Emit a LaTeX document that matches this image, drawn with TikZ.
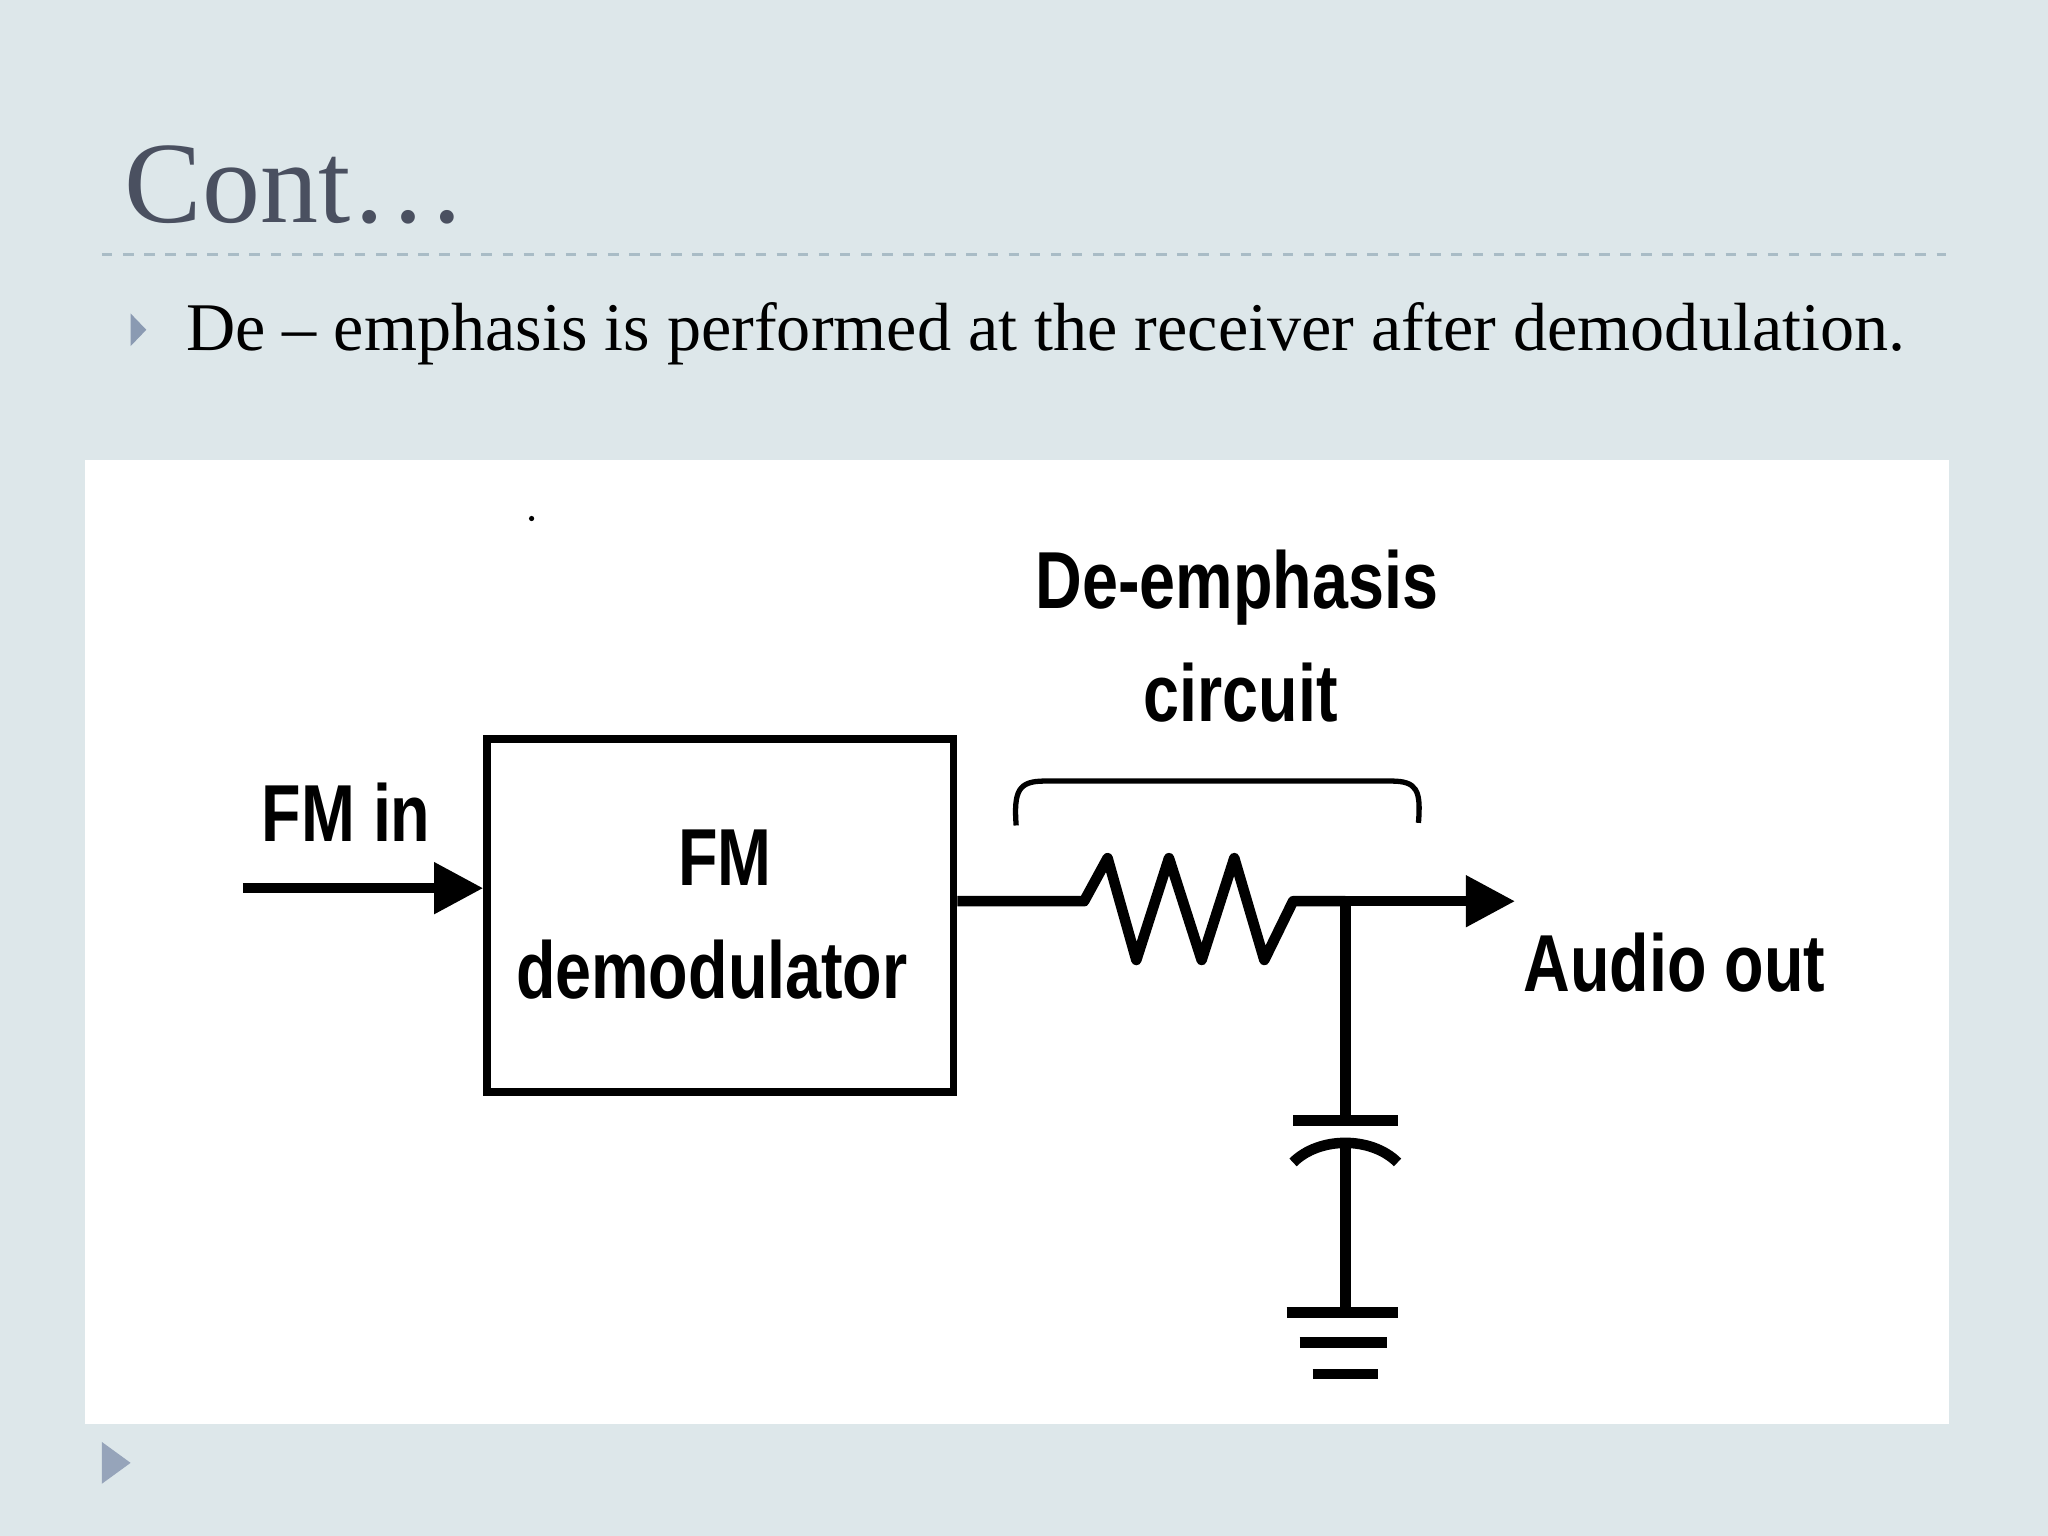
\documentclass[tikz,border=0pt]{standalone}
\usepackage{fontspec}
\setmainfont{Liberation Serif}
\newfontfamily\diag{Liberation Sans}
\usetikzlibrary{arrows.meta}
\definecolor{bg}{HTML}{DDE7EA}
\definecolor{ttl}{HTML}{4A5060}
\definecolor{bul}{HTML}{8A9AB2}
\definecolor{dashc}{HTML}{A9BCC6}
\begin{document}
\begin{tikzpicture}[x=0.013061cm,y=-0.013061cm,
  wire/.style={line width=3pt,black},
  lbl/.style={font=\diag\bfseries\fontsize{23}{26}\selectfont,xscale=0.8,inner sep=0pt}]
\useasboundingbox (0,0) rectangle (1568,1176);
\fill[bg] (0,0) rectangle (1568,1176);
\node[anchor=base west,inner sep=0pt,text=ttl,font=\fontsize{33}{36}\selectfont] (title) at (95,170) {Cont…};
\draw[dashc,dashed,line width=0.8pt] (78,195) -- (1490,195);
\fill[bul] (100,240) -- (112,252.5) -- (100,265) -- cycle;
\node[anchor=base west,inner sep=0pt,font=\fontsize{19.4}{23}\selectfont] (txt) at (142,268) {De – emphasis is performed at the receiver after demodulation.};
\fill[white] (65,352) rectangle (1492,1090);
\fill (407,397) circle (2);
\node[draw,line width=2.2pt,minimum width=357*0.013061cm,minimum height=270*0.013061cm,inner sep=0pt] (box) at (551.5,701) {};
\node[lbl] (fm) at (555,657) {FM};
\node[lbl] (dem) at (545,742) {demodulator};
\node[lbl] (fmin) at (265,622) {FM in};
\node[lbl] (de) at (947,450) {De-emphasis};
\node[lbl] (circ) at (950,530) {circuit};
\node[lbl] (aud) at (1282,737) {Audio out};
\coordinate (in) at (186,680);
\coordinate (r0) at (830,690);
\coordinate (j) at (1030,690);
\coordinate (out) at (1160,690);
\draw[wire,-{Triangle[length=14pt,width=14pt]}] (in) -- (box.west |- in);
\draw[wire,line join=round] (box.east |- r0) -- (r0) -- (848,657) -- (870,735) -- (895,657) -- (920,735) -- (945,657) -- (968,735) -- (990,690) -- (j);
\draw[wire,-{Triangle[length=14pt,width=14pt]}] (j) -- (out);
\draw[wire] (j) -- (1030,858);
\draw[wire] (990,858) -- (1070,858);
\draw[wire] (990,890) .. controls (1010,870) and (1050,870) .. (1070,890);
\draw[wire] (1030,877) -- (1030,1005);
\draw[wire] (985,1005) -- (1070,1005);
\draw[wire] (995,1028) -- (1062,1028);
\draw[wire] (1005,1052) -- (1055,1052);
\draw[line width=1.5pt] (778,632) .. controls (776,605) and (780,598) .. (800,598) -- (1065,598) .. controls (1085,598) and (1088,605) .. (1086,630);
\fill[bul!90] (78,1104) -- (100,1120) -- (78,1136) -- cycle;
\end{tikzpicture}
\end{document}
